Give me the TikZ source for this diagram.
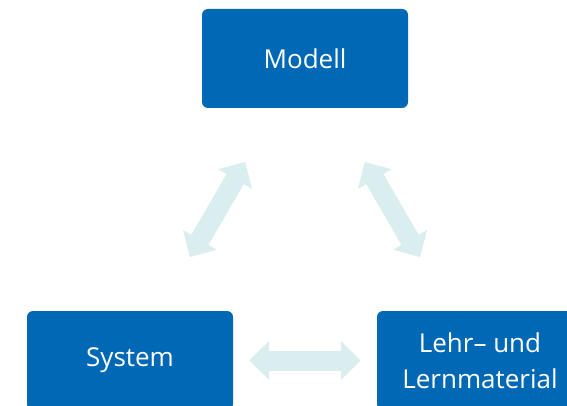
\documentclass[tikz,border=0pt]{standalone}
\usepackage{fontspec}
\setmainfont{Open Sans}
\usetikzlibrary{arrows.meta}
\definecolor{boxblue}{RGB}{0,104,180}
\definecolor{arrowcyan}{RGB}{218,238,240}

\begin{document}
\begin{tikzpicture}[x=1pt, y=-1pt]
\tikzstyle{box}=[rectangle, rounded corners=6pt, fill=boxblue, text=white, minimum width=206pt, minimum height=99pt, inner sep=0pt, align=center, font=\fontsize{26}{36}\selectfont]
\tikzstyle{connect}=[arrowcyan, line width=20pt, {Triangle[length=20pt 0, width=38pt 0]}-{Triangle[length=20pt 0, width=38pt 0]}]

  \useasboundingbox (0,0) rectangle (567,406);

  \node[box] (modell)   at (305,58.5)  {Modell};
  \node[box] (system)   at (130,360.5) {System};
  \node[box] (material) at (480,360.5) {Lehr– und\\Lernmaterial};

  \path (modell) edge [connect, shorten <=62pt, shorten >=62pt] (system);
  \path (modell) edge [connect, shorten <=62pt, shorten >=62pt] (material);
  \path (system) edge [connect, shorten <=16pt, shorten >=16pt] (material);

\end{tikzpicture}
\end{document}
